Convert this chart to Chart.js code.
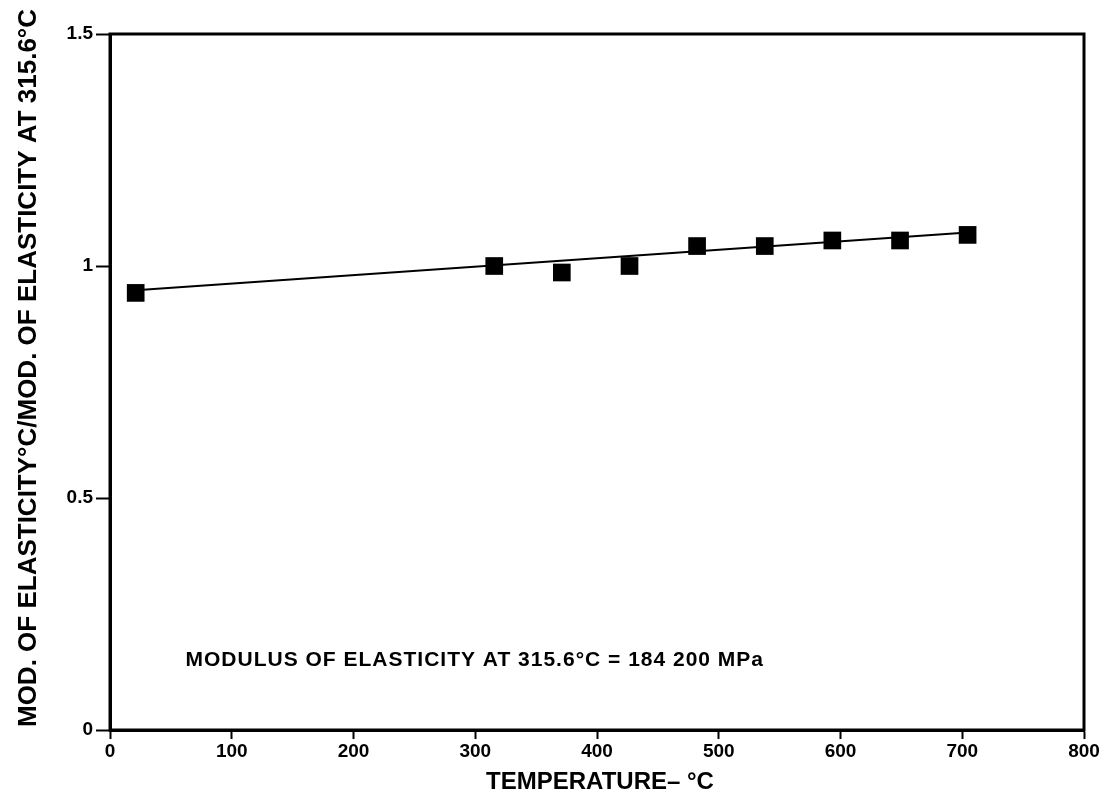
<!DOCTYPE html>
<html>
<head>
<meta charset="utf-8">
<script src="https://cdn.jsdelivr.net/npm/chart.js@4.4.1/dist/chart.umd.min.js"></script>
<style>
  html, body { margin: 0; padding: 0; background: #fff; }
  #wrap { width: 1111px; height: 802px; }
</style>
</head>
<body>
<div id="wrap"><canvas id="myChart" width="1111" height="802"></canvas></div>
<script>
// temperatures (°C) and modulus ratio
const temps = [21.1, 315.6, 371.1, 426.7, 482.2, 537.8, 593.3, 648.9, 704.4];
const ratios = [0.942, 1.0, 0.986, 1.0, 1.043, 1.043, 1.055, 1.055, 1.067];

// fitted straight line
const fitTemps = [21.1, 704.4];
const fitRatios = [0.948, 1.072];

const xTicks = [0, 100, 200, 300, 400, 500, 600, 700, 800];
const yTicks = [0, 0.5, 1, 1.5];
const yTickLabels = ["0", "0.5", "1", "1.5"];

const xTitle = "TEMPERATURE– °C";
const yTitle = "MOD. OF ELASTICITY°C/MOD. OF ELASTICITY AT 315.6°C";
const note = "MODULUS OF ELASTICITY AT 315.6°C = 184 200 MPa";
const noteAt = { x: 62, y: 0.151 };

const font = "'Liberation Sans', Arial, sans-serif";

const framePlugin = {
  id: "frame",
  afterDraw: (chart) => {
    const ctx = chart.ctx;
    const a = chart.chartArea;
    ctx.save();
    ctx.strokeStyle = "#000";
    ctx.lineWidth = 3;
    ctx.strokeRect(a.left, a.top, a.right - a.left, a.bottom - a.top);
    ctx.fillStyle = "#000";

    // note inside the plot
    ctx.font = "bold 21px " + font;
    ctx.letterSpacing = "1px";
    ctx.textBaseline = "middle";
    ctx.textAlign = "left";
    ctx.fillText(
      note,
      chart.scales.x.getPixelForValue(noteAt.x),
      chart.scales.y.getPixelForValue(noteAt.y)
    );

    // x title
    ctx.font = "bold 24px " + font;
    ctx.letterSpacing = "0px";
    ctx.textAlign = "center";
    ctx.textBaseline = "alphabetic";
    ctx.fillText(xTitle, 600, 789);

    // y title
    ctx.translate(36, 368);
    ctx.rotate(-Math.PI / 2);
    ctx.font = "bold 26px " + font;
    ctx.fillText(yTitle, 0, 0);
    ctx.restore();
  },
};

const points = temps.map((t, i) => ({ x: t, y: ratios[i] }));
const fit = fitTemps.map((t, i) => ({ x: t, y: fitRatios[i] }));

let myChart = document.getElementById("myChart");
let newChart = new Chart(myChart, {
  type: "scatter",
  data: {
    datasets: [
      {
        label: "fit",
        type: "line",
        data: fit,
        borderColor: "#000",
        borderWidth: 2,
        pointRadius: 0,
        fill: false,
      },
      {
        label: "data",
        data: points,
        pointStyle: "rect",
        pointRadius: 12.5,
        backgroundColor: "#000",
        borderColor: "#000",
        borderWidth: 0,
      },
    ],
  },
  options: {
    responsive: false,
    animation: false,
    devicePixelRatio: 1,
    layout: { padding: { top: 34, right: 27, left: 0, bottom: 0 } },
    plugins: {
      legend: { display: false },
      tooltip: { enabled: false },
    },
    scales: {
      x: {
        type: "linear",
        min: 0,
        max: 800,
        afterBuildTicks: (scale) => {
          scale.ticks = xTicks.map((v) => ({ value: v }));
        },
        afterFit: (scale) => {
          scale.height = 72;
        },
        grid: {
          drawOnChartArea: false,
          drawTicks: true,
          tickLength: 9,
          tickWidth: 2,
          color: "#000",
        },
        border: { display: true, color: "#000", width: 3 },
        ticks: {
          color: "#000",
          font: { family: font, size: 19, weight: "bold" },
          padding: 1,
          maxRotation: 0,
        },
      },
      y: {
        type: "linear",
        min: 0,
        max: 1.5,
        afterBuildTicks: (scale) => {
          scale.ticks = yTicks.map((v) => ({ value: v }));
        },
        afterFit: (scale) => {
          scale.width = 110;
        },
        grid: {
          drawOnChartArea: false,
          drawTicks: true,
          tickLength: 14,
          tickWidth: 2,
          color: "#000",
        },
        border: { display: true, color: "#000", width: 3 },
        ticks: {
          color: "#000",
          font: { family: font, size: 19, weight: "bold" },
          padding: 3,
          callback: (value) => yTickLabels[yTicks.indexOf(value)],
        },
      },
    },
  },
  plugins: [framePlugin],
});
</script>
</body>
</html>
